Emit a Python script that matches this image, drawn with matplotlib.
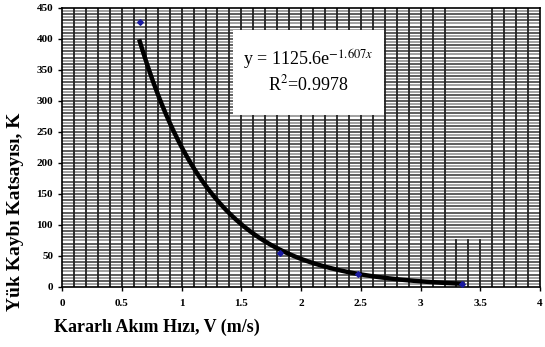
import numpy as np
import matplotlib
matplotlib.use("Agg")
import matplotlib.pyplot as plt

plt.rcParams["mathtext.fontset"] = "stix"

# data
obs_x = [0.65, 1.82, 2.48, 3.35]
obs_y = [427, 55, 21, 5]
fit_a = 1125.6
fit_b = -1.607
x_ticks = [0, 0.5, 1, 1.5, 2, 2.5, 3, 3.5, 4]
x_tick_labels = ["0", "0.5", "1", "1.5", "2", "2.5", "3", "3.5", "4"]
y_ticks = [0, 50, 100, 150, 200, 250, 300, 350, 400, 450]

fig = plt.figure(figsize=(5.45, 3.47), dpi=100)
ax = fig.add_axes([0.114, 0.173, 0.877, 0.804])
ax.set_xlim(0, 4)
ax.set_ylim(0, 450)

# dense grid
for yv in np.arange(5, 450, 5):
    ax.axhline(yv, color="#333333" if yv % 10 == 0 else "#888888", lw=1.1, zorder=0)
for xv in np.arange(0.1, 4.0, 0.1):
    if 3.25 < xv < 3.55:
        ax.plot([xv, xv], [0, 75], color="#222222", lw=1.3, zorder=0)
    else:
        ax.axvline(xv, color="#222222", lw=1.3, zorder=0)

# text box region
ax.add_patch(plt.Rectangle((1.43, 277), 1.26, 137, facecolor="white", edgecolor="none", zorder=1))
ax.text(2.06, 366, "y = 1125.6e$^{-1.607x}$", ha="center", va="center", fontsize=13,
        family="Liberation Serif", zorder=2)
ax.text(2.06, 326, "R$^2$=0.9978", ha="center", va="center", fontsize=13,
        family="Liberation Serif", zorder=2)

xf = np.linspace(obs_x[0], obs_x[-1], 300)
ax.plot(xf, fit_a * np.exp(fit_b * xf), color="black", lw=3.2, zorder=3)
ax.scatter(obs_x, obs_y, color="#1a1aa0", marker="D", s=8, zorder=4)

ax.set_xticks(x_ticks)
ax.set_xticklabels(x_tick_labels)
ax.set_yticks(y_ticks)
for lab in ax.get_xticklabels() + ax.get_yticklabels():
    lab.set_family("Liberation Serif")
    lab.set_fontsize(8)
    lab.set_fontweight("bold")
ax.tick_params(length=3, width=1)
ax.tick_params(axis="x", pad=6)
for s in ax.spines.values():
    s.set_linewidth(1.2)

fig.text(0.028, 0.39, "Yük Kaybı Katsayısı, K", rotation=90, ha="center", va="center",
         fontsize=14, fontweight="bold", family="Liberation Serif")
fig.text(0.10, 0.057, "Kararlı Akım Hızı, V (m/s)", ha="left", va="center",
         fontsize=13, fontweight="bold", family="Liberation Serif")

fig.savefig("out.png", dpi=100)
